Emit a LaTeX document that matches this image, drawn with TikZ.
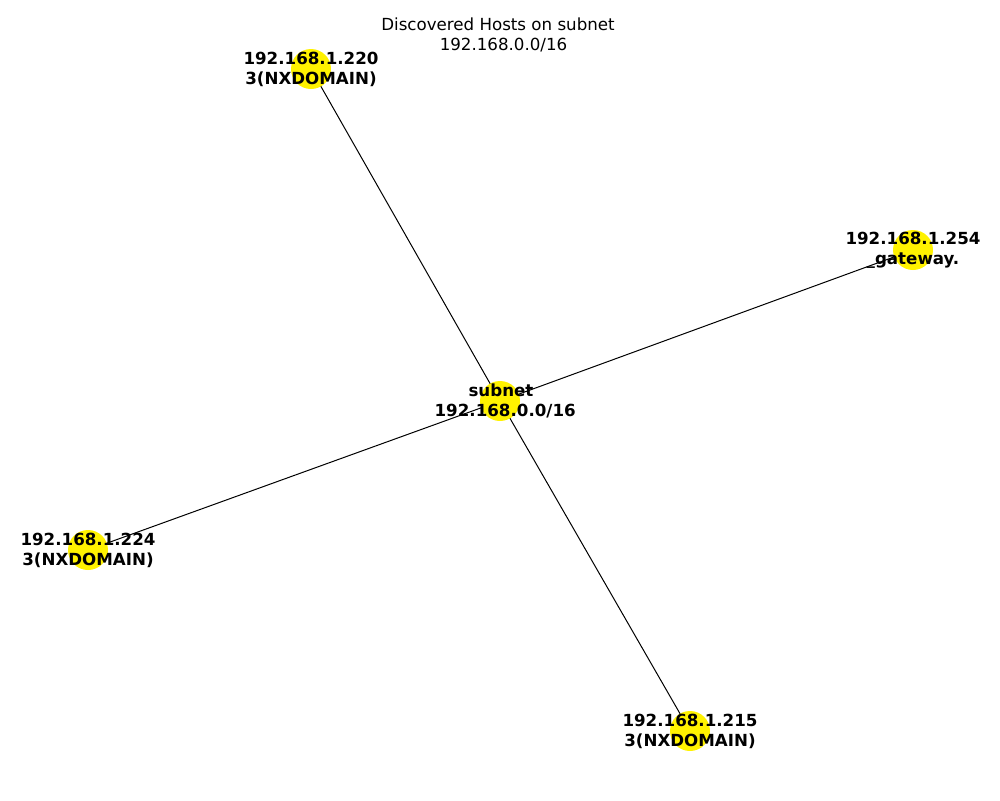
\documentclass[tikz,border=0pt]{standalone}
\usepackage{fontspec}
\setmainfont{DejaVu Sans}
\begin{document}
\begin{tikzpicture}[x=0.72pt,y=-0.72pt,
  host/.style={circle,fill=yellow,draw=none,minimum size=28.8pt,inner sep=0pt},
  lbl/.style={align=center,font=\fontsize{12}{14.4}\selectfont\bfseries,inner sep=0pt},
  edge/.style={draw=black,line width=0.72pt}]
\useasboundingbox (0,0) rectangle (1000,800);
\node[align=center,font=\fontsize{12}{14.4}\selectfont,inner sep=0pt] (title) at (498,35) {Discovered Hosts on subnet\\\hspace*{8pt}192.168.0.0/16};
\coordinate (c0) at (500,401);
\coordinate (c1) at (311,69);
\coordinate (c2) at (913,250);
\coordinate (c3) at (88,550);
\coordinate (c4) at (690,731);
\draw[edge] (c0) -- (c1);
\draw[edge] (c0) -- (c2);
\draw[edge] (c0) -- (c3);
\draw[edge] (c0) -- (c4);
\node[host] (n0) at (c0) {};
\node[host] (n1) at (c1) {};
\node[host] (n2) at (c2) {};
\node[host] (n3) at (c3) {};
\node[host] (n4) at (c4) {};
\node[lbl] (l0) at (501,401) {subnet\\\hspace*{6pt}192.168.0.0/16};
\node[lbl] (l1) at (c1) {192.168.1.220\\3(NXDOMAIN)};
\node[lbl] (l2) at (c2) {192.168.1.254\\\_gateway.};
\node[lbl] (l3) at (c3) {192.168.1.224\\3(NXDOMAIN)};
\node[lbl] (l4) at (c4) {192.168.1.215\\3(NXDOMAIN)};
\end{tikzpicture}
\end{document}
